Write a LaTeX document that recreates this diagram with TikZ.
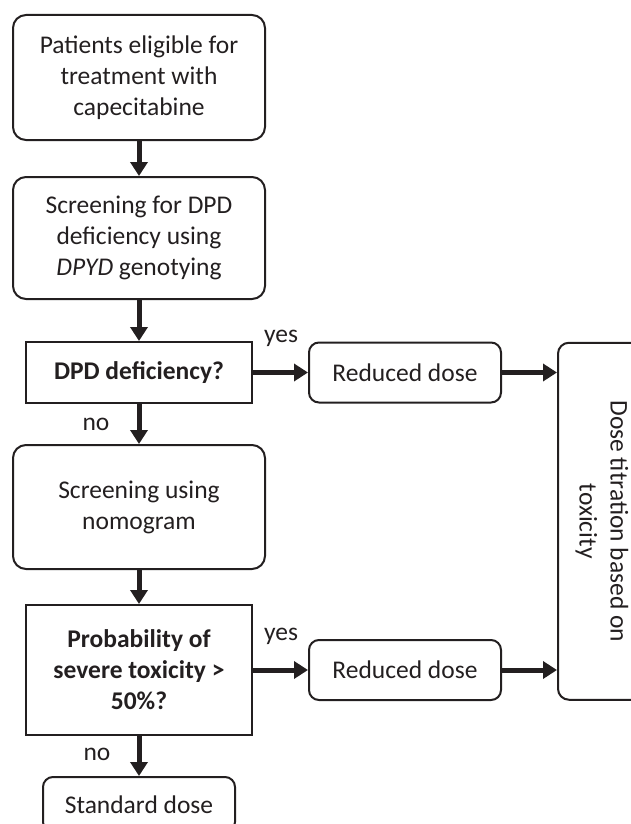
\documentclass[tikz,border=0pt]{standalone}
\usepackage{fontspec}
\setmainfont{Carlito}
\usepackage{tikz}
\usetikzlibrary{arrows.meta,positioning,calc}
\definecolor{ink}{HTML}{231F20}
\newcommand{\flowfont}{\fontsize{25.5}{31}\selectfont}
\tikzset{
  stepbox/.style={rectangle, rounded corners=13pt, draw=ink, line width=2pt, text=ink,
                  align=center, inner sep=4pt, font=\flowfont, minimum width=252pt},
  askbox/.style={stepbox, sharp corners, font=\flowfont\bfseries, minimum width=226pt},
  dosebox/.style={stepbox, rounded corners=10pt, minimum width=192pt, minimum height=60pt},
  titrbox/.style={stepbox, rounded corners=11pt, rotate=-90, minimum width=357pt, minimum height=88pt},
  lbl/.style={font=\flowfont, text=ink},
  flow/.style={-{Triangle[length=14pt, width=17pt]}, draw=ink, line width=5pt}
}

\begin{document}
\begin{tikzpicture}[x=1pt, y=1pt, node distance=35pt]
  \useasboundingbox (0,0) rectangle (631,-824);
  \node[stepbox, minimum height=125pt] (start) at (139,-77.5) {Patients eligible for\\treatment with\\capecitabine};
  \node[stepbox, below=35pt of start, minimum height=122pt] (geno) {Screening for DPD\\deficiency using\\\textit{DPYD} genotying};
  \node[askbox, below=41pt of geno, minimum height=61pt] (dpd) {DPD deficiency?};
  \node[dosebox, right=55pt of dpd] (red1) {Reduced dose};
  \node[stepbox, below=40pt of dpd, minimum height=124pt] (nomo) {Screening using\\nomogram};
  \node[askbox, below=34pt of nomo, minimum height=130pt] (prob) {Probability of\\severe toxicity >\\50\%?};
  \node[dosebox, right=55pt of prob] (red2) {Reduced dose};
  \node[dosebox, below=40pt of prob, minimum height=55pt] (std) {Standard dose};
  \node[titrbox, anchor=south] (titr) at ($(red1.east)!.5!(red2.east)+(55,0)$) {Dose titration based on\\toxicity};
  \node[lbl] (yes1) at ([xshift=28pt, yshift=34pt]dpd.east) {yes};
  \node[lbl] (no1) at ([xshift=-43pt, yshift=-20pt]dpd.south) {no};
  \node[lbl] (yes2) at ([xshift=28pt, yshift=34pt]prob.east) {yes};
  \node[lbl] (no2) at ([xshift=-42pt, yshift=-18pt]prob.south) {no};
  \draw[flow] (start)--(geno); \draw[flow] (geno)--(dpd); \draw[flow] (dpd)--(nomo);
  \draw[flow] (nomo)--(prob); \draw[flow] (prob)--(std);
  \draw[flow] (dpd)--(red1); \draw[flow] (prob)--(red2);
  \draw[flow] (red1)--(red1 -| titr.south); \draw[flow] (red2)--(red2 -| titr.south);
\end{tikzpicture}
\end{document}
